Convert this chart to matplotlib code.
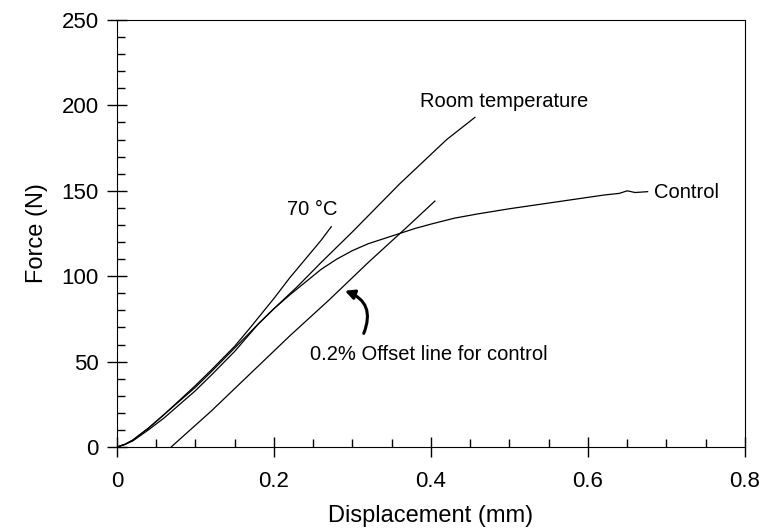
import matplotlib
matplotlib.use("Agg")
import matplotlib.pyplot as plt
from matplotlib.ticker import MultipleLocator

plt.rcParams['font.family'] = ['Liberation Sans', 'DejaVu Sans']

# control specimen
control_x = [0, 0.01, 0.02, 0.04, 0.06, 0.08, 0.10, 0.12, 0.15, 0.18, 0.20, 0.22, 0.24, 0.26,
             0.28, 0.30, 0.32, 0.34, 0.36, 0.38, 0.40, 0.43, 0.46, 0.50, 0.53, 0.56, 0.59,
             0.62, 0.64, 0.65, 0.66, 0.676]
control_y = [0, 1.5, 3.5, 10, 17, 25, 33, 42, 56, 72, 81, 89, 96.5, 104,
             110, 115, 119, 122, 125, 128, 130.5, 134, 136.5, 139.5, 141.5, 143.5, 145.5,
             147.5, 148.5, 150, 149, 149.5]

# room temperature
room_x = [0, 0.01, 0.02, 0.04, 0.06, 0.08, 0.10, 0.12, 0.15, 0.18, 0.20, 0.23, 0.26, 0.30,
          0.33, 0.36, 0.39, 0.42, 0.456]
room_y = [0, 1.5, 4, 11, 19, 27, 35, 44, 58, 72, 81, 94, 108, 126,
          140, 154, 167, 180, 193]

# 70 C
hot_x = [0, 0.01, 0.02, 0.04, 0.06, 0.08, 0.10, 0.12, 0.15, 0.17, 0.20, 0.22, 0.24, 0.26, 0.273]
hot_y = [0, 1.5, 4, 11, 19, 27.5, 36, 45, 59, 70, 87, 99, 110, 121, 129]

# 0.2% offset line
offset_x = [0.069, 0.12, 0.17, 0.22, 0.27, 0.32, 0.37, 0.405]
offset_y = [0, 21, 43, 65, 86, 108, 129, 144]

fig = plt.figure(figsize=(7.68, 5.31), dpi=100)
ax = fig.add_axes([0.1523, 0.1582, 0.8177, 0.8041])

lw = 0.9
ax.plot(control_x, control_y, color='black', lw=lw)
ax.plot(room_x, room_y, color='black', lw=lw)
ax.plot(hot_x, hot_y, color='black', lw=lw)
ax.plot(offset_x, offset_y, color='black', lw=lw)

fs = 14.5
ax.text(0.386, 202.5, 'Room temperature', fontsize=fs, va='center', ha='left')
ax.text(0.2166, 139, '70 °C', fontsize=fs, va='center', ha='left')
ax.text(0.684, 149.3, 'Control', fontsize=fs, va='center', ha='left')
ax.text(0.246, 54, '0.2% Offset line for control', fontsize=fs, va='center', ha='left')

ax.annotate('', xy=(0.287, 92), xytext=(0.313, 65),
            arrowprops=dict(arrowstyle='-|>,head_length=0.55,head_width=0.28',
                            connectionstyle='arc3,rad=0.55', color='black', lw=2.2))

ax.set_xlim(0, 0.8)
ax.set_ylim(0, 250)
ax.xaxis.set_major_locator(MultipleLocator(0.2))
ax.xaxis.set_minor_locator(MultipleLocator(0.05))
ax.yaxis.set_major_locator(MultipleLocator(50))
ax.yaxis.set_minor_locator(MultipleLocator(10))
ax.xaxis.set_major_formatter(plt.FuncFormatter(lambda v, p: '%g' % v))

ax.tick_params(which='major', direction='inout', length=14, width=1, labelsize=16)
ax.tick_params(which='minor', direction='in', length=6, width=1)
ax.tick_params(axis='x', which='major', pad=10)
ax.tick_params(axis='y', which='major', pad=6)

ax.set_xlabel('Displacement (mm)', fontsize=17, labelpad=10)
ax.set_ylabel('Force (N)', fontsize=17, labelpad=10)

fig.savefig('out.png', dpi=100)
